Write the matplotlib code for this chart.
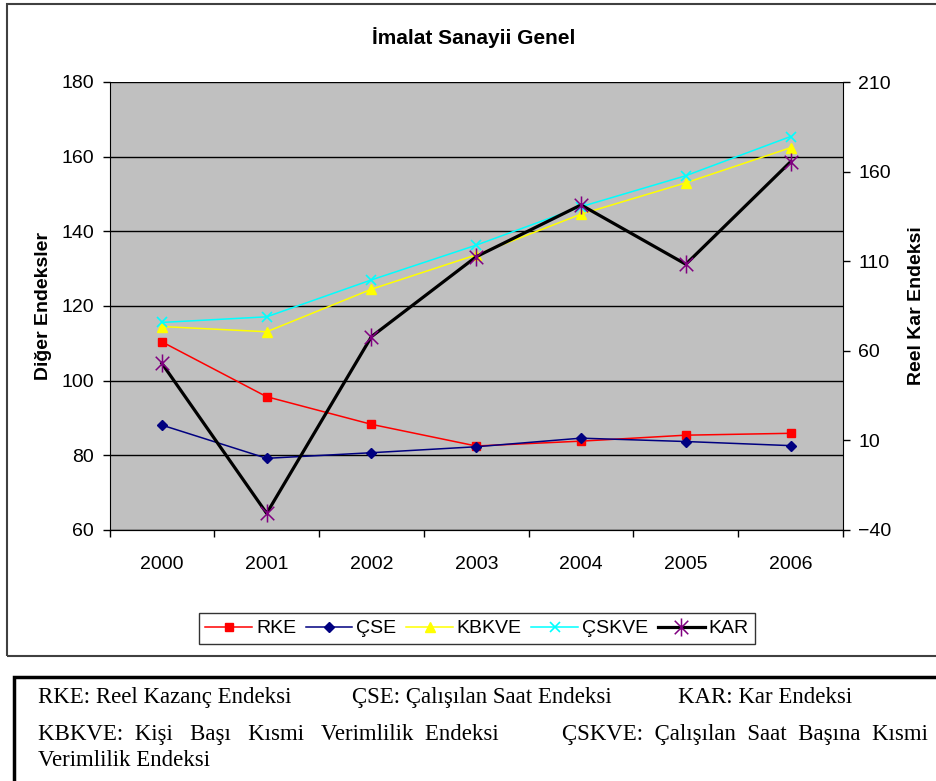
import matplotlib
matplotlib.use("Agg")
import matplotlib.pyplot as plt
from matplotlib.lines import Line2D
from matplotlib.patches import Rectangle
from matplotlib.path import Path

# data
years = ["2000", "2001", "2002", "2003", "2004", "2005", "2006"]
rke = [110.4, 95.7, 88.3, 82.5, 83.8, 85.4, 85.9]
cse = [88.1, 79.2, 80.7, 82.3, 84.6, 83.7, 82.6]
kbkve = [114.5, 113.1, 124.5, 133.7, 144.6, 153.0, 162.4]
cskve = [115.6, 117.1, 127.0, 136.3, 146.6, 154.9, 165.4]
kar = [53.0, -30.7, 67.9, 112.5, 141.4, 108.3, 165.5]

left_ticks = [60, 80, 100, 120, 140, 160, 180]
right_ticks = [-40, 10, 60, 110, 160, 210]

W, H = 936, 781
plt.rcParams['font.family'] = ['Liberation Sans', 'DejaVu Sans']

fig = plt.figure(figsize=(W / 100, H / 100), dpi=100)
fig.patch.set_facecolor('white')

def fx(px):
    return px / W

def fy(py):
    return 1 - py / H

# plot area
ax1 = fig.add_axes([fx(109.5), fy(530), fx(843) - fx(109.5), fy(82) - fy(530)])
ax1.set_facecolor('#C0C0C0')
xs = list(range(len(years)))

# excel style star marker: X plus vertical bar
star = Path([(0, -1), (0, 1), (-0.75, -0.75), (0.75, 0.75), (-0.75, 0.75), (0.75, -0.75)],
            [Path.MOVETO, Path.LINETO, Path.MOVETO, Path.LINETO, Path.MOVETO, Path.LINETO])

ax1.plot(xs, rke, color='#FF0000', lw=1.1, marker='s', ms=6, mec='#FF0000', zorder=3)
ax1.plot(xs, cse, color='#000080', lw=1.1, marker='D', ms=5, mec='#000080', zorder=3)
ax1.plot(xs, kbkve, color='#FFFF00', lw=1.1, marker='^', ms=7, mec='#FFFF00', zorder=3)
ax1.plot(xs, cskve, color='#00FFFF', lw=1.1, marker='x', ms=7, mew=1.2, zorder=3)

ax1.set_ylim(60, 180)
ax1.set_yticks(left_ticks)
ax1.set_xlim(-0.5, len(years) - 0.5)
ax1.set_xticks([i - 0.5 for i in range(len(years) + 1)])
ax1.set_xticklabels([])
ax1.set_xticks(xs, minor=True)
ax1.set_xticklabels(years, minor=True)
ax1.tick_params(axis='x', which='major', direction='out', length=5, width=1)
ax1.tick_params(axis='x', which='minor', length=0, pad=19, labelsize=14)
ax1.tick_params(axis='y', direction='out', length=5, width=1, pad=6, labelsize=14)
ax1.grid(axis='y', color='black', lw=1)
ax1.set_axisbelow(True)
for s in ['top', 'right']:
    ax1.spines[s].set_visible(False)
ax1.spines['left'].set_color('black')
ax1.spines['bottom'].set_color('black')
ax1.set_ylabel('Diğer Endeksler', fontsize=14, fontweight='bold', labelpad=7)

ax2 = ax1.twinx()
ax2.plot(xs, kar, color='black', lw=2.3, marker=star, ms=13, mec='#800080', mew=1.1, zorder=4)
ax2.set_ylim(-40, 210)
ax2.set_yticks(right_ticks)
ax2.tick_params(axis='y', direction='out', length=5, width=1, pad=6, labelsize=14)
ax2.spines['top'].set_visible(False)
ax2.spines['left'].set_visible(False)
ax2.spines['right'].set_color('black')
ax2.set_ylabel('Reel Kar Endeksi', fontsize=14, fontweight='bold', rotation=90, labelpad=12)

fig.text(fx(474), fy(38), 'İmalat Sanayii Genel', ha='center', va='center',
         fontsize=15, fontweight='bold')

# legend
handles = [
    Line2D([0], [0], color='#FF0000', lw=1.1, marker='s', ms=6),
    Line2D([0], [0], color='#000080', lw=1.1, marker='D', ms=5),
    Line2D([0], [0], color='#FFFF00', lw=1.1, marker='^', ms=7),
    Line2D([0], [0], color='#00FFFF', lw=1.1, marker='x', ms=7, mew=1.2),
    Line2D([0], [0], color='black', lw=2.3, marker=star, ms=13, mec='#800080', mew=1.1),
]
labels = ['RKE', 'ÇSE', 'KBKVE', 'ÇSKVE', 'KAR']
leg = fig.legend(handles, labels, loc='center', bbox_to_anchor=(fx(477), fy(628.5)),
                 ncol=5, fontsize=14, frameon=True, fancybox=False, edgecolor='black',
                 handlelength=2.4, handletextpad=0.2, columnspacing=0.5, borderpad=0.35)
leg.get_frame().set_linewidth(1)

# chart border and footnote box
fig.patches.append(Rectangle((fx(7), fy(656)), 1.2, fy(4) - fy(656), transform=fig.transFigure,
                             fill=False, edgecolor='#404040', lw=1.5))
fig.patches.append(Rectangle((fx(14), -0.1), 1.2, fy(677) + 0.1, transform=fig.transFigure,
                             fill=False, edgecolor='black', lw=2.5))

serif = ['Liberation Serif', 'DejaVu Serif']
fs = 16.5
fig.text(fx(38), fy(703), 'RKE: Reel Kazanç Endeksi', fontsize=fs, family=serif, va='baseline')
fig.text(fx(352), fy(703), 'ÇSE: Çalışılan Saat Endeksi', fontsize=fs, family=serif, va='baseline')
fig.text(fx(678), fy(703), 'KAR: Kar Endeksi', fontsize=fs, family=serif, va='baseline')
fig.text(fx(38), fy(740), 'KBKVE:  Kişi   Başı   Kısmi   Verimlilik  Endeksi', fontsize=fs,
         family=serif, va='baseline')
fig.text(fx(562), fy(740), 'ÇSKVE:  Çalışılan  Saat  Başına  Kısmi', fontsize=fs,
         family=serif, va='baseline')
fig.text(fx(38), fy(766), 'Verimlilik Endeksi', fontsize=fs, family=serif, va='baseline')

fig.savefig('out.png', dpi=100)
